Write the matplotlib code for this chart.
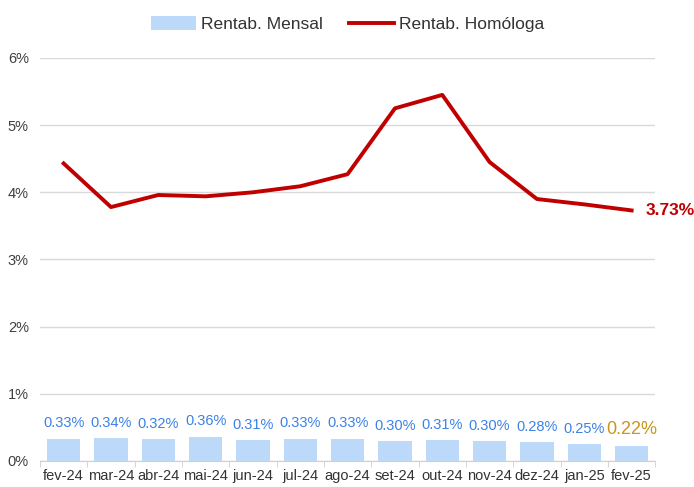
import matplotlib.pyplot as plt
import numpy as np
from matplotlib.ticker import FuncFormatter

plt.rcParams['font.family'] = ['Liberation Sans', 'DejaVu Sans']

months = ['fev-24', 'mar-24', 'abr-24', 'mai-24', 'jun-24', 'jul-24', 'ago-24',
          'set-24', 'out-24', 'nov-24', 'dez-24', 'jan-25', 'fev-25']
mensal = [0.33, 0.34, 0.32, 0.36, 0.31, 0.33, 0.33, 0.30, 0.31, 0.30, 0.28, 0.25, 0.22]
homologa = [4.43, 3.78, 3.96, 3.94, 4.00, 4.09, 4.27, 5.25, 5.45, 4.45, 3.90, 3.82, 3.73]

fig = plt.figure(figsize=(6.94, 4.87), dpi=100)
ax = fig.add_axes([0.0576, 0.0534, 0.8866, 0.8276])

x = np.arange(len(months))
bars = ax.bar(x, mensal, width=0.7, color='#BDD9FA', label='Rentab. Mensal', zorder=2)
line, = ax.plot(x, homologa, color='#C00000', lw=2.8, label='Rentab. Homóloga', zorder=3)

# bar labels
for i, v in enumerate(mensal):
    last = i == len(mensal) - 1
    ax.annotate(f'{v:.2f}%', (i, v), xytext=(0, 6), textcoords='offset points',
                ha='center', va='bottom',
                fontsize=13 if last else 10.5,
                color='#C8961E' if last else '#3B82E6')

ax.annotate(f'{homologa[-1]:.2f}%', (x[-1], homologa[-1]), xytext=(10, 0),
            textcoords='offset points', ha='left', va='center',
            fontsize=12.5, fontweight='bold', color='#C00000', annotation_clip=False)

ax.set_xlim(-0.5, len(months) - 0.5)
ax.set_ylim(0, 6)
ax.set_yticks(range(0, 7))
ax.yaxis.set_major_formatter(FuncFormatter(lambda v, p: f'{v:.0f}%'))
ax.set_xticks(x)
ax.set_xticklabels(months)
ax.set_xticks(np.arange(-0.5, len(months)), minor=True)
ax.tick_params(axis='x', which='major', length=0, labelsize=10.5, colors='#333333', pad=6)
ax.tick_params(axis='x', which='minor', length=4, color='#D0D0D0')
ax.tick_params(axis='y', length=0, labelsize=10.5, colors='#404040', pad=8)

ax.grid(axis='y', color='#D9D9D9', lw=1, zorder=0)
for s in ['top', 'right', 'left']:
    ax.spines[s].set_visible(False)
ax.spines['bottom'].set_color('#D0D0D0')

ax.legend([bars, line], ['Rentab. Mensal', 'Rentab. Homóloga'],
          loc='lower center', bbox_to_anchor=(0.5, 1.025), ncol=2, frameon=False,
          fontsize=12.5, handlelength=2.6, handleheight=0.9, handletextpad=0.3,
          columnspacing=1.5, labelcolor='#333333')

fig.savefig('out.png', dpi=100)
